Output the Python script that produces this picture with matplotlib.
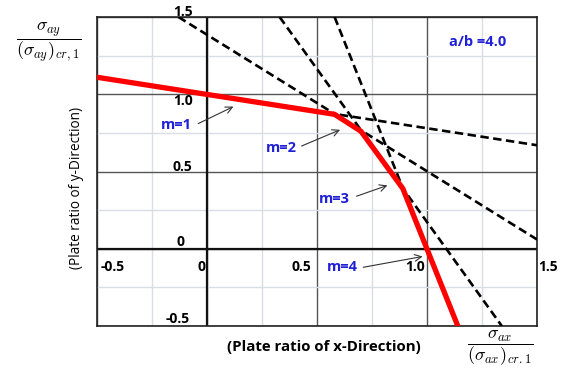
import matplotlib
matplotlib.use("Agg")
import matplotlib.pyplot as plt

plt.rcParams['font.family'] = ['Open Sans', 'DejaVu Sans']
plt.rcParams['mathtext.fontset'] = 'cm'

# dashed interaction lines for each buckling mode (end points)
MODES = ['m=1', 'm=2', 'm=3', 'm=4']
LINE_X = [[-0.5, 1.5], [-0.13, 1.5], [0.33, 1.34], [0.58, 1.14]]
LINE_Y = [[1.11, 0.67], [1.5, 0.06], [1.5, -0.5], [1.5, -0.5]]

# lower envelope (red)
ENV_X = [-0.5, 0.58, 0.70, 0.89, 1.14]
ENV_Y = [1.11, 0.87, 0.76, 0.39, -0.5]

# mode labels: text position and arrow head
LABEL_POS = [(-0.14, 0.80), (0.34, 0.655), (0.58, 0.325), (0.615, -0.12)]
ARROW_TAIL = [(-0.04, 0.81), (0.43, 0.665), (0.68, 0.34), (0.71, -0.12)]
ARROW_HEAD = [(0.12, 0.92), (0.605, 0.77), (0.82, 0.41), (0.98, -0.05)]

XTICKS = [-0.5, 0, 0.5, 1.0, 1.5]
XTICK_LABELS = ['-0.5', '0', '0.5', '1.0', '1.5']
YTICKS = [1.5, 1.0, 0.5, 0, -0.5]
YTICK_LABELS = ['1.5', '1.0', '0.5', '0', '-0.5']

BLUE = '#2020d8'

fig = plt.figure(figsize=(5.7, 3.75), dpi=100)
ax = fig.add_axes([97/570, 1 - 326/375, 440/570, 309/375])

ax.set_xlim(-0.5, 1.5)
ax.set_ylim(-0.5, 1.5)
ax.set_xticks(XTICKS)
ax.set_yticks(YTICKS)
ax.set_xticks([-0.25, 0.25, 0.75, 1.25], minor=True)
ax.set_yticks([-0.25, 0.25, 0.75, 1.25], minor=True)
ax.tick_params(which='both', length=0, labelbottom=False, labelleft=False)
ax.grid(which='major', color='#555555', lw=1.0)
ax.grid(which='minor', color='#d9dde6', lw=1.0)
ax.set_axisbelow(True)
for s in ax.spines.values():
    s.set_color('#222222')
    s.set_linewidth(1.2)

ax.axhline(0, color='#111111', lw=1.6, zorder=1.5)
ax.axvline(0, color='#111111', lw=1.6, zorder=1.5)

for xs, ys in zip(LINE_X, LINE_Y):
    ax.plot(xs, ys, color='black', lw=1.9, ls=(0, (3.2, 1.7)), zorder=3)

ax.plot(ENV_X, ENV_Y, color='#ff0000', lw=3.8, zorder=4, solid_joinstyle='miter')

for lab, pos, tail, head in zip(MODES, LABEL_POS, ARROW_TAIL, ARROW_HEAD):
    ax.text(pos[0], pos[1], lab, color=BLUE, fontsize=10.5, fontweight='bold',
            ha='center', va='center', zorder=5)
    ax.annotate('', xy=head, xytext=tail,
                arrowprops=dict(arrowstyle='->', color='#333333', lw=0.8,
                                mutation_scale=12, shrinkA=0, shrinkB=0), zorder=5)

ax.text(1.23, 1.34, 'a/b =4.0', color=BLUE, fontsize=10.5, fontweight='bold',
        ha='center', va='center')

# tick labels drawn inside the grid, as in the original
ytick_pos = {1.5: 1.535, 1.0: 0.955, 0.5: 0.53, 0: 0.045, -0.5: -0.455}
ytick_x = {1.5: -0.11, 1.0: -0.11, 0.5: -0.11, 0: -0.12, -0.5: -0.135}
for v, lab in zip(YTICKS, YTICK_LABELS):
    ax.text(ytick_x[v], ytick_pos[v], lab, fontsize=10, fontweight='bold',
            ha='center', va='center', clip_on=False)
xtick_x = [-0.43, -0.025, 0.43, 0.945, 1.55]
for xp, lab in zip(xtick_x, XTICK_LABELS):
    ax.text(xp, -0.116, lab, fontsize=10, fontweight='bold',
            ha='center', va='center', clip_on=False)

fig.text(324/570, 1 - 347/375, '(Plate ratio of x-Direction)', fontsize=10.8,
         fontweight='bold', ha='center', va='center')
fig.text(77/570, 1 - 188/375, '(Plate ratio of y-Direction)', fontsize=9.8,
         rotation=90, ha='center', va='center')

fig.text(49/570, 1 - 42/375, r'$\dfrac{\sigma_{ay}}{(\sigma_{ay})_{cr,1}}$',
         fontsize=13, ha='center', va='center')
fig.text(500/570, 1 - 348/375, r'$\dfrac{\sigma_{ax}}{(\sigma_{ax})_{cr.1}}$',
         fontsize=13, ha='center', va='center')

fig.savefig('out.png', dpi=100)
